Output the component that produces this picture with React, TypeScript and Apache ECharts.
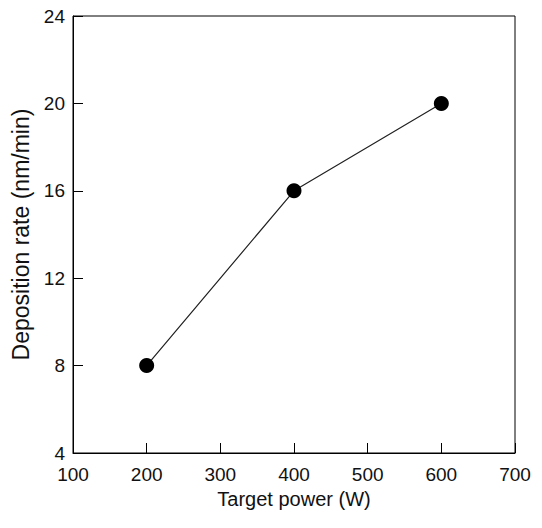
import React, { useEffect, useRef } from "react";
import * as echarts from "echarts";

const powers = [200, 400, 600];
const rates = [8, 16, 20];
const xTicks = [100, 200, 300, 400, 500, 600, 700];
const yTicks = [4, 8, 12, 16, 20, 24];

export default function App() {
  const ref = useRef<HTMLDivElement>(null);
  useEffect(() => {
    if (!ref.current) return;
    const chart = echarts.init(ref.current, null, { renderer: "svg" });
    const font = "Liberation Sans, Arial, sans-serif";
    chart.setOption({
      animation: false,
      backgroundColor: "#fff",
      grid: {
        left: 73,
        top: 16,
        width: 442,
        height: 437,
        show: true,
        borderColor: "#000",
        borderWidth: 1,
      },
      xAxis: {
        type: "value",
        min: xTicks[0],
        max: xTicks[xTicks.length - 1],
        interval: 100,
        name: "Target power (W)",
        nameLocation: "middle",
        nameGap: 35,
        nameTextStyle: { color: "#111", fontSize: 20, fontFamily: font },
        axisLine: { show: true, lineStyle: { color: "#000", width: 1 } },
        axisTick: { show: true, inside: true, length: 10, lineStyle: { color: "#000" } },
        axisLabel: { color: "#111", fontSize: 19, fontFamily: font, margin: 12 },
        splitLine: { show: false },
      },
      yAxis: {
        type: "value",
        min: yTicks[0],
        max: yTicks[yTicks.length - 1],
        interval: 4,
        name: "Deposition rate (nm/min)",
        nameLocation: "middle",
        nameGap: 39,
        nameTextStyle: { color: "#111", fontSize: 23, fontFamily: font },
        axisLine: { show: true, lineStyle: { color: "#000", width: 1 } },
        axisTick: { show: true, inside: true, length: 10, lineStyle: { color: "#000" } },
        axisLabel: { color: "#111", fontSize: 19, fontFamily: font, margin: 8 },
        splitLine: { show: false },
      },
      series: [
        {
          type: "line",
          data: powers.map((p, i) => [p, rates[i]]),
          symbol: "circle",
          symbolSize: 15,
          itemStyle: { color: "#000" },
          lineStyle: { color: "#222", width: 1.2 },
        },
      ],
    });
    return () => chart.dispose();
  }, []);
  return (
    <div
      ref={ref}
      style={{ position: "fixed", left: 0, top: 0, width: 542, height: 528, background: "#fff" }}
    />
  );
}
